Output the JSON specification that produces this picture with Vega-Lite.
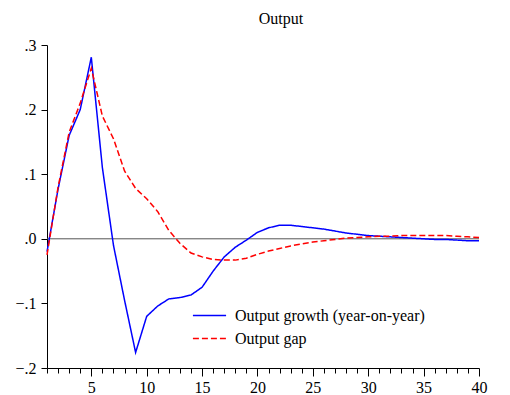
{
  "$schema": "https://vega.github.io/schema/vega-lite/v6.json",
  "width": 432,
  "height": 323,
  "autosize": "none",
  "padding": {"left": 47, "top": 45, "right": 31, "bottom": 27},
  "background": "white",
  "config": {
    "view": {"stroke": null},
    "font": "Liberation Serif, Times New Roman, serif",
    "axis": {"grid": false, "domainColor": "black", "tickColor": "black", "labelColor": "black", "labelFont": "Liberation Serif, Times New Roman, serif", "labelFontSize": 16, "domainWidth": 1, "tickWidth": 1}
  },
  "title": {"text": "Output", "font": "Liberation Serif, Times New Roman, serif", "fontSize": 16, "fontWeight": "normal", "anchor": "middle", "dx": 18, "dy": 25, "offset": 19, "baseline": "bottom", "color": "black"},
  "data": {"values": [
    {"t":1,"s":"Output growth (year-on-year)","v":-0.02},
    {"t":2,"s":"Output growth (year-on-year)","v":0.077},
    {"t":3,"s":"Output growth (year-on-year)","v":0.16},
    {"t":4,"s":"Output growth (year-on-year)","v":0.2},
    {"t":5,"s":"Output growth (year-on-year)","v":0.281},
    {"t":6,"s":"Output growth (year-on-year)","v":0.11},
    {"t":7,"s":"Output growth (year-on-year)","v":-0.01},
    {"t":8,"s":"Output growth (year-on-year)","v":-0.095},
    {"t":9,"s":"Output growth (year-on-year)","v":-0.176},
    {"t":10,"s":"Output growth (year-on-year)","v":-0.12},
    {"t":11,"s":"Output growth (year-on-year)","v":-0.104},
    {"t":12,"s":"Output growth (year-on-year)","v":-0.093},
    {"t":13,"s":"Output growth (year-on-year)","v":-0.091},
    {"t":14,"s":"Output growth (year-on-year)","v":-0.087},
    {"t":15,"s":"Output growth (year-on-year)","v":-0.075},
    {"t":16,"s":"Output growth (year-on-year)","v":-0.05},
    {"t":17,"s":"Output growth (year-on-year)","v":-0.028},
    {"t":18,"s":"Output growth (year-on-year)","v":-0.013},
    {"t":19,"s":"Output growth (year-on-year)","v":-0.002},
    {"t":20,"s":"Output growth (year-on-year)","v":0.01},
    {"t":21,"s":"Output growth (year-on-year)","v":0.017},
    {"t":22,"s":"Output growth (year-on-year)","v":0.021},
    {"t":23,"s":"Output growth (year-on-year)","v":0.021},
    {"t":24,"s":"Output growth (year-on-year)","v":0.019},
    {"t":25,"s":"Output growth (year-on-year)","v":0.017},
    {"t":26,"s":"Output growth (year-on-year)","v":0.015},
    {"t":27,"s":"Output growth (year-on-year)","v":0.012},
    {"t":28,"s":"Output growth (year-on-year)","v":0.009},
    {"t":29,"s":"Output growth (year-on-year)","v":0.007},
    {"t":30,"s":"Output growth (year-on-year)","v":0.005},
    {"t":31,"s":"Output growth (year-on-year)","v":0.004},
    {"t":32,"s":"Output growth (year-on-year)","v":0.003},
    {"t":33,"s":"Output growth (year-on-year)","v":0.002},
    {"t":34,"s":"Output growth (year-on-year)","v":0.001},
    {"t":35,"s":"Output growth (year-on-year)","v":0.0},
    {"t":36,"s":"Output growth (year-on-year)","v":-0.001},
    {"t":37,"s":"Output growth (year-on-year)","v":-0.001},
    {"t":38,"s":"Output growth (year-on-year)","v":-0.002},
    {"t":39,"s":"Output growth (year-on-year)","v":-0.003},
    {"t":40,"s":"Output growth (year-on-year)","v":-0.003},
    {"t":1,"s":"Output gap","v":-0.025},
    {"t":2,"s":"Output gap","v":0.08},
    {"t":3,"s":"Output gap","v":0.165},
    {"t":4,"s":"Output gap","v":0.21},
    {"t":5,"s":"Output gap","v":0.264},
    {"t":6,"s":"Output gap","v":0.19},
    {"t":7,"s":"Output gap","v":0.155},
    {"t":8,"s":"Output gap","v":0.105},
    {"t":9,"s":"Output gap","v":0.078},
    {"t":10,"s":"Output gap","v":0.062},
    {"t":11,"s":"Output gap","v":0.042},
    {"t":12,"s":"Output gap","v":0.013},
    {"t":13,"s":"Output gap","v":-0.007},
    {"t":14,"s":"Output gap","v":-0.022},
    {"t":15,"s":"Output gap","v":-0.028},
    {"t":16,"s":"Output gap","v":-0.032},
    {"t":17,"s":"Output gap","v":-0.033},
    {"t":18,"s":"Output gap","v":-0.033},
    {"t":19,"s":"Output gap","v":-0.03},
    {"t":20,"s":"Output gap","v":-0.024},
    {"t":21,"s":"Output gap","v":-0.019},
    {"t":22,"s":"Output gap","v":-0.015},
    {"t":23,"s":"Output gap","v":-0.011},
    {"t":24,"s":"Output gap","v":-0.008},
    {"t":25,"s":"Output gap","v":-0.005},
    {"t":26,"s":"Output gap","v":-0.003},
    {"t":27,"s":"Output gap","v":-0.001},
    {"t":28,"s":"Output gap","v":0.001},
    {"t":29,"s":"Output gap","v":0.002},
    {"t":30,"s":"Output gap","v":0.003},
    {"t":31,"s":"Output gap","v":0.004},
    {"t":32,"s":"Output gap","v":0.004},
    {"t":33,"s":"Output gap","v":0.005},
    {"t":34,"s":"Output gap","v":0.005},
    {"t":35,"s":"Output gap","v":0.005},
    {"t":36,"s":"Output gap","v":0.005},
    {"t":37,"s":"Output gap","v":0.005},
    {"t":38,"s":"Output gap","v":0.004},
    {"t":39,"s":"Output gap","v":0.003},
    {"t":40,"s":"Output gap","v":0.002}
  ]},
  "layer": [
    {
      "data": {"values": [{"z": 0}]},
      "mark": {"type": "rule", "color": "#555555", "strokeWidth": 1},
      "encoding": {"y": {"field": "z", "type": "quantitative", "scale": {"domain": [-0.2, 0.3]}}}
    },
    {
      "mark": {"type": "line", "strokeWidth": 1.5},
      "encoding": {
        "x": {
          "field": "t", "type": "quantitative",
          "scale": {"domain": [1, 40], "nice": false, "zero": false},
          "axis": {
            "title": null,
            "values": [1,2,3,4,5,6,7,8,9,10,11,12,13,14,15,16,17,18,19,20,21,22,23,24,25,26,27,28,29,30,31,32,33,34,35,36,37,38,39,40],
            "labelExpr": "datum.value % 5 === 0 ? datum.label : ''",
            "tickSize": {"condition": {"test": "datum.value % 5 === 0", "value": 8}, "value": 5},
            "labelPadding": 3,
            "labelFlush": false,
            "labelOverlap": false
          }
        },
        "y": {
          "field": "v", "type": "quantitative",
          "scale": {"domain": [-0.2, 0.3], "nice": false},
          "axis": {
            "title": null,
            "values": [-0.2, -0.1, 0, 0.1, 0.2, 0.3],
            "labelExpr": "replace(format(datum.value, '.1f'), '0.', '.')",
            "tickSize": 6,
            "labelPadding": 5
          }
        },
        "color": {
          "field": "s", "type": "nominal", "sort": ["Output growth (year-on-year)", "Output gap"],
          "scale": {"domain": ["Output growth (year-on-year)", "Output gap"], "range": ["#0000ff", "#ff0000"]},
          "legend": {
            "title": null, "orient": "none", "legendX": 145, "legendY": 259,
            "labelFont": "Liberation Serif, Times New Roman, serif", "labelFontSize": 16, "labelColor": "black", "labelLimit": 400,
            "symbolType": "stroke", "symbolSize": 1100, "symbolStrokeWidth": 1.5,
            "labelOffset": 8, "rowPadding": 0, "clipHeight": 23, "padding": 0, "fillColor": null
          }
        },
        "strokeDash": {
          "field": "s", "type": "nominal", "sort": ["Output growth (year-on-year)", "Output gap"],
          "scale": {"domain": ["Output growth (year-on-year)", "Output gap"], "range": [[1, 0], [6, 3]]},
          "legend": {
            "title": null, "orient": "none", "legendX": 145, "legendY": 259,
            "labelFont": "Liberation Serif, Times New Roman, serif", "labelFontSize": 16, "labelColor": "black", "labelLimit": 400,
            "symbolType": "stroke", "symbolSize": 1100, "symbolStrokeWidth": 1.5,
            "labelOffset": 8, "rowPadding": 0, "clipHeight": 23, "padding": 0, "fillColor": null
          }
        }
      }
    }
  ]
}
